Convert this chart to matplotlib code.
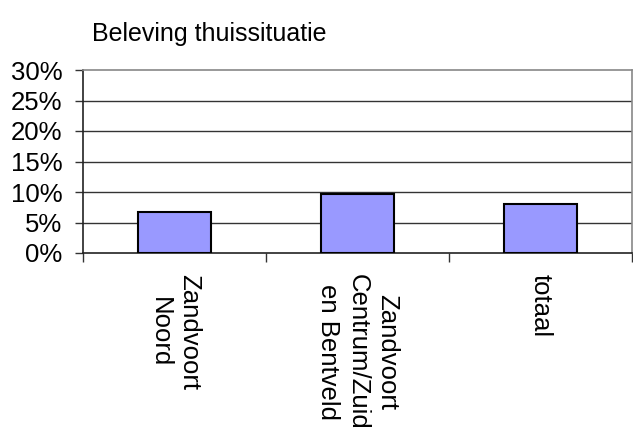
import matplotlib
matplotlib.use("Agg")
import matplotlib.pyplot as plt
import numpy as np

plt.rcParams['font.family'] = ['Liberation Sans', 'DejaVu Sans']

title = "Beleving thuissituatie"
categories = ["Zandvoort\nNoord", "Zandvoort\nCentrum/Zuid\nen Bentveld", "totaal"]
values = [6.7, 9.7, 8.0]
yticks = [0, 5, 10, 15, 20, 25, 30]
ytick_labels = ["0%", "5%", "10%", "15%", "20%", "25%", "30%"]

fig = plt.figure(figsize=(6.33, 4.32), dpi=100)
ax = fig.add_axes([83/633, 1-253/432, (632-83)/633, (253-70)/432])

x = np.arange(len(categories))
ax.bar(x, values, width=0.40, color='#9999FF', edgecolor='black', linewidth=1.5, zorder=3)

ax.set_xlim(-0.5, len(categories)-0.5)
ax.set_ylim(0, 30)
ax.set_yticks(yticks)
ax.set_yticklabels(ytick_labels, fontsize=18.5)
for yv in yticks[1:-1]:
    ax.axhline(yv, color='#333333', linewidth=1.0, zorder=1)

ax.set_xticks(x)
ax.set_xticklabels(categories, rotation=270, fontsize=18.5, va='top', ha='center',
                   multialignment='center', linespacing=1.3)
ax.tick_params(axis='x', which='major', length=0, pad=15)
ax.set_xticks(np.arange(-0.5, len(categories), 1.0), minor=True)
ax.tick_params(axis='x', which='minor', length=6.5, width=1.0, color='#333333')
ax.tick_params(axis='y', which='major', length=6, width=1.0, pad=9, color='#333333')

for s in ['left', 'bottom']:
    ax.spines[s].set_color('#222222')
    ax.spines[s].set_linewidth(1.2)
for s in ['top', 'right']:
    ax.spines[s].set_color('#888888')
    ax.spines[s].set_linewidth(1.2)

fig.text(92/633, 1-34/432, title, fontsize=18, va='center', ha='left')

fig.savefig("out.png", dpi=100)
